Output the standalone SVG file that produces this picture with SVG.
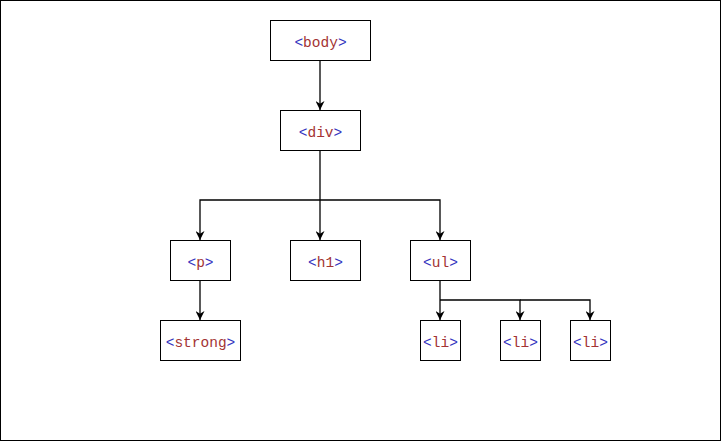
<svg xmlns="http://www.w3.org/2000/svg" width="722" height="442" viewBox="0 0 722 442">
<defs>
<marker id="ah" viewBox="0 0 10 10" refX="10" refY="5" markerWidth="9" markerHeight="9" markerUnits="userSpaceOnUse" orient="auto">
<path d="M0,0 L10,5 L0,10 L3,5 Z" fill="#000"/>
</marker>
<style>
.box{fill:#fff;stroke:#000;stroke-width:1}
.t{font-family:"Liberation Mono","DejaVu Sans Mono",monospace;font-size:14.5px;text-anchor:middle;dominant-baseline:central;fill:#a33333}
.b{fill:#3535c0}
.c{fill:none;stroke:#000;stroke-width:1.3}
</style>
</defs>
<rect x="0.5" y="0.5" width="720" height="440" fill="#fff" stroke="#000"/>
<g id="connectors">
<path class="c" d="M320,60 V110" marker-end="url(#ah)"/>
<path class="c" d="M320,150 V240" marker-end="url(#ah)"/>
<path class="c" d="M320,200 H200 V240" marker-end="url(#ah)"/>
<path class="c" d="M320,200 H440 V240" marker-end="url(#ah)"/>
<path class="c" d="M200,280 V320" marker-end="url(#ah)"/>
<path class="c" d="M440,280 V320" marker-end="url(#ah)"/>
<path class="c" d="M440,300 H520 V320" marker-end="url(#ah)"/>
<path class="c" d="M520,300 H590 V320" marker-end="url(#ah)"/>
</g>
<g id="body"><rect class="box" x="270.5" y="20.5" width="100" height="40"/><text class="t" x="320.5" y="42.5"><tspan class="b">&lt;</tspan>body<tspan class="b">&gt;</tspan></text></g>
<g id="div"><rect class="box" x="280.5" y="110.5" width="80" height="40"/><text class="t" x="320.5" y="132.5"><tspan class="b">&lt;</tspan>div<tspan class="b">&gt;</tspan></text></g>
<g id="p"><rect class="box" x="170.5" y="240.5" width="60" height="40"/><text class="t" x="200.5" y="262.5"><tspan class="b">&lt;</tspan>p<tspan class="b">&gt;</tspan></text></g>
<g id="h1"><rect class="box" x="290.5" y="240.5" width="70" height="40"/><text class="t" x="325.5" y="262.5"><tspan class="b">&lt;</tspan>h1<tspan class="b">&gt;</tspan></text></g>
<g id="ul"><rect class="box" x="410.5" y="240.5" width="60" height="40"/><text class="t" x="440.5" y="262.5"><tspan class="b">&lt;</tspan>ul<tspan class="b">&gt;</tspan></text></g>
<g id="strong"><rect class="box" x="160.5" y="320.5" width="80" height="40"/><text class="t" x="200.5" y="342.5"><tspan class="b">&lt;</tspan>strong<tspan class="b">&gt;</tspan></text></g>
<g id="li1"><rect class="box" x="420.5" y="320.5" width="40" height="40"/><text class="t" x="440.5" y="342.5"><tspan class="b">&lt;</tspan>li<tspan class="b">&gt;</tspan></text></g>
<g id="li2"><rect class="box" x="500.5" y="320.5" width="40" height="40"/><text class="t" x="520.5" y="342.5"><tspan class="b">&lt;</tspan>li<tspan class="b">&gt;</tspan></text></g>
<g id="li3"><rect class="box" x="570.5" y="320.5" width="40" height="40"/><text class="t" x="590.5" y="342.5"><tspan class="b">&lt;</tspan>li<tspan class="b">&gt;</tspan></text></g>
</svg>
